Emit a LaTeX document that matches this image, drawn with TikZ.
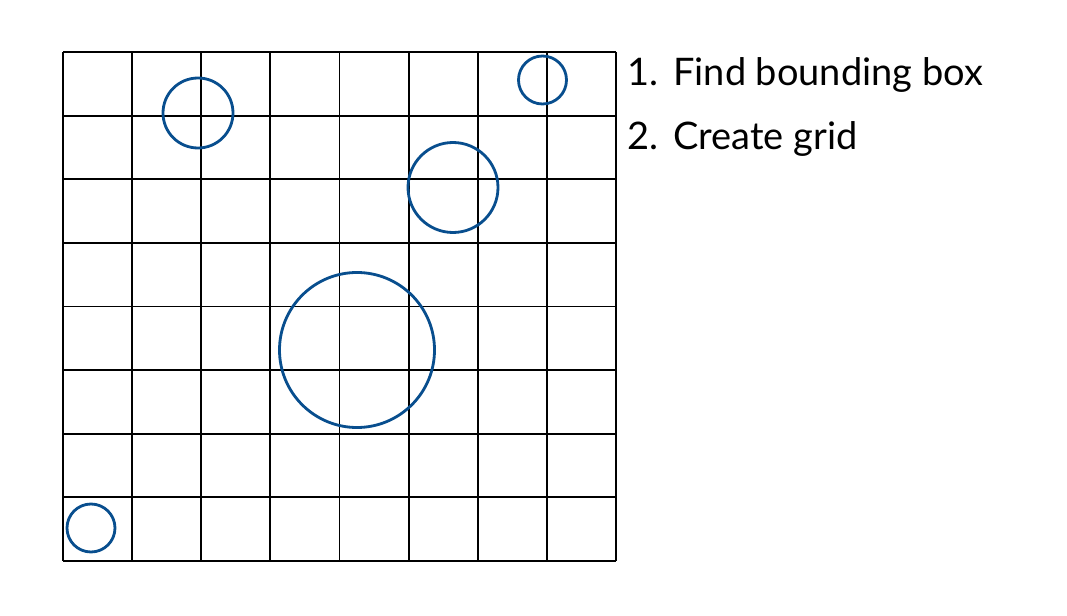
\documentclass[tikz,border=0pt]{standalone}
\usepackage{fontspec}
\setmainfont{Lato}
\definecolor{circ-blue}{RGB}{8,78,142}

\begin{document}
\begin{tikzpicture}[x=0.025cm, y=-0.025cm]

\useasboundingbox (0,0) rectangle (1067,616);

% Grid, 8 x 8 cells
\foreach \i in {0,...,8} {
  \draw[line width=1.3pt] (63+69.125*\i, 52) -- (63+69.125*\i, 561);
  \draw[line width=1.3pt] (63, 52+63.625*\i) -- (616, 52+63.625*\i);
}

% Circles
\draw[circ-blue, line width=2pt] (198, 113)   circle (35);
\draw[circ-blue, line width=2pt] (542.5, 80)  circle (24);
\draw[circ-blue, line width=2pt] (453, 187.5) circle (45);
\draw[circ-blue, line width=2pt] (357, 350)   circle (77.5);
\draw[circ-blue, line width=2pt] (91, 528)    circle (24);

% Steps
\node[anchor=base west, inner sep=0] (num1)  at (627, 86)  {\fontsize{27}{32}\selectfont 1.};
\node[anchor=base west, inner sep=0] (step1) at (673, 86)  {\fontsize{27}{32}\selectfont Find bounding box};
\node[anchor=base west, inner sep=0] (num2)  at (627, 150) {\fontsize{27}{32}\selectfont 2.};
\node[anchor=base west, inner sep=0] (step2) at (673, 150) {\fontsize{27}{32}\selectfont Create grid};

\end{tikzpicture}
\end{document}
